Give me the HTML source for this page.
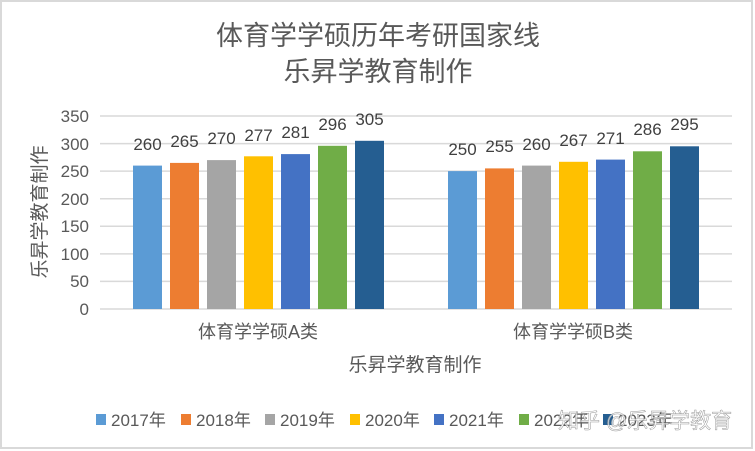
<!DOCTYPE html>
<html><head><meta charset="utf-8"><style>
body{margin:0;background:#fff}
svg{display:block;font-family:"Liberation Sans","Noto Sans CJK SC",sans-serif}
</style></head><body>
<svg width="755" height="451" viewBox="0 0 755 451">
<rect x="1" y="1" width="751" height="447" fill="#fff" stroke="#d9d9d9" stroke-width="2"/>
<text x="378" y="45" font-size="27" fill="#595959" text-anchor="middle">体育学学硕历年考研国家线</text>
<text x="378" y="81" font-size="27" fill="#595959" text-anchor="middle">乐昇学教育制作</text>
<g stroke="#d9d9d9" stroke-width="1.5">
<line x1="100" x2="732" y1="116" y2="116"/><line x1="100" x2="732" y1="143.6" y2="143.6"/>
<line x1="100" x2="732" y1="171.1" y2="171.1"/><line x1="100" x2="732" y1="198.7" y2="198.7"/>
<line x1="100" x2="732" y1="226.3" y2="226.3"/><line x1="100" x2="732" y1="253.9" y2="253.9"/>
<line x1="100" x2="732" y1="281.4" y2="281.4"/><line x1="100" x2="732" y1="309" y2="309"/>
</g>
<g font-size="17" fill="#595959" text-anchor="end">
<text x="89" y="122">350</text><text x="89" y="150">300</text><text x="89" y="177">250</text>
<text x="89" y="205">200</text><text x="89" y="232">150</text><text x="89" y="260">100</text>
<text x="89" y="287">50</text><text x="89" y="315">0</text>
</g>
<text transform="translate(46,212) rotate(-90)" font-size="19" fill="#595959" text-anchor="middle">乐昇学教育制作</text>
<g>
<rect x="133" y="165.6" width="29" height="143.4" fill="#5b9bd5"/>
<rect x="170" y="162.9" width="29" height="146.1" fill="#ed7d31"/>
<rect x="207" y="160.1" width="29" height="148.9" fill="#a5a5a5"/>
<rect x="244" y="156.3" width="29" height="152.7" fill="#ffc000"/>
<rect x="281" y="154.1" width="29" height="154.9" fill="#4472c4"/>
<rect x="318" y="145.8" width="29" height="163.2" fill="#70ad47"/>
<rect x="355" y="140.8" width="29" height="168.2" fill="#255e91"/>
<rect x="448" y="171.1" width="29" height="137.9" fill="#5b9bd5"/>
<rect x="485" y="168.4" width="29" height="140.6" fill="#ed7d31"/>
<rect x="522" y="165.6" width="29" height="143.4" fill="#a5a5a5"/>
<rect x="559" y="161.8" width="29" height="147.2" fill="#ffc000"/>
<rect x="596" y="159.6" width="29" height="149.4" fill="#4472c4"/>
<rect x="633" y="151.3" width="29" height="157.7" fill="#70ad47"/>
<rect x="670" y="146.3" width="29" height="162.7" fill="#255e91"/>
</g>
<g font-size="17" fill="#404040" text-anchor="middle">
<text x="147.5" y="150">260</text><text x="184.5" y="147">265</text><text x="221.5" y="144">270</text>
<text x="258.5" y="141">277</text><text x="295.5" y="138">281</text><text x="332.5" y="130">296</text>
<text x="369.5" y="125">305</text>
<text x="462.5" y="155">250</text><text x="499.5" y="152">255</text><text x="536.5" y="150">260</text>
<text x="573.5" y="146">267</text><text x="610.5" y="144">271</text><text x="647.5" y="135">286</text>
<text x="684.5" y="130">295</text>
</g>
<text x="258" y="338" font-size="18" fill="#595959" text-anchor="middle">体育学学硕A类</text>
<text x="573" y="338" font-size="18" fill="#595959" text-anchor="middle">体育学学硕B类</text>
<text x="415" y="371" font-size="19" fill="#595959" text-anchor="middle">乐昇学教育制作</text>
<g font-size="17" fill="#595959">
<rect x="96" y="414" width="10" height="11" fill="#5b9bd5"/><text x="111" y="426">2017年</text>
<rect x="181" y="414" width="10" height="11" fill="#ed7d31"/><text x="196" y="426">2018年</text>
<rect x="265" y="414" width="10" height="11" fill="#a5a5a5"/><text x="280" y="426">2019年</text>
<rect x="350" y="414" width="10" height="11" fill="#ffc000"/><text x="365" y="426">2020年</text>
<rect x="434" y="414" width="10" height="11" fill="#4472c4"/><text x="449" y="426">2021年</text>
<rect x="519" y="414" width="10" height="11" fill="#70ad47"/><text x="534" y="426">2022年</text>
<rect x="603" y="414" width="10" height="11" fill="#255e91"/><text x="618" y="426">2023年</text>
</g>
<text x="558" y="428" font-size="21" fill="#fff" fill-opacity="0.7" stroke="#999" stroke-width="0.5">知乎 @乐昇学教育</text>
</svg>
</body></html>
